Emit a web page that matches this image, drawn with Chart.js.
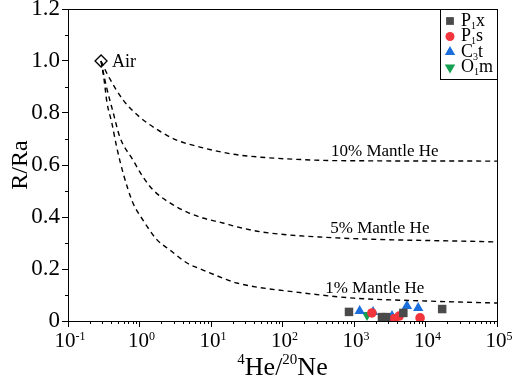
<!DOCTYPE html>
<html>
<head>
<meta charset="utf-8">
<script src="https://cdn.jsdelivr.net/npm/chart.js@4.4.1/dist/chart.umd.min.js"></script>
<style>
  html, body { margin: 0; padding: 0; background: #fff; }
</style>
</head>
<body>
<canvas id="chartHeNe" width="512" height="377"></canvas>
<script>
// R/Ra vs 4He/20Ne, with air - mantle He mixing curves
const serif = "'Liberation Serif', 'Times New Roman', serif";

const xTickValues = [0.1, 1, 10, 100, 1000, 10000, 100000];
const xTickExp = ['-1', '0', '1', '2', '3', '4', '5'];
const yTickValues = [0, 0.2, 0.4, 0.6, 0.8, 1.0, 1.2];

// air end member
const airX = [0.29];
const airY = [1.0];

// mixing curves
const curve10X = [0.29, 0.36, 0.59, 1.0, 1.8, 3.3, 7, 20, 50, 150, 500, 100000];
const curve10Y = [1.0, 0.946, 0.85, 0.785, 0.735, 0.696, 0.669, 0.642, 0.630, 0.622, 0.617, 0.615];

const curve5X = [0.29, 0.34, 0.43, 0.53, 0.81, 1.12, 1.55, 2.67, 4.62, 7.73, 14.7, 23.1, 53, 331, 100000];
const curve5Y = [1.0, 0.908, 0.8, 0.708, 0.619, 0.554, 0.504, 0.454, 0.419, 0.396, 0.377, 0.362, 0.342, 0.323, 0.304];

const curve1X = [0.29, 0.32, 0.35, 0.41, 0.48, 0.59, 0.81, 1.12, 1.76, 2.67, 4.62, 7.73, 14.7, 23.1, 194, 1000, 10000, 100000];
const curve1Y = [1.0, 0.927, 0.842, 0.762, 0.669, 0.569, 0.454, 0.388, 0.312, 0.273, 0.223, 0.196, 0.165, 0.146, 0.108, 0.088, 0.077, 0.069];

// samples
const p1xX = [851, 2460, 2800, 4900, 17100];
const p1xY = [0.035, 0.015, 0.015, 0.031, 0.046];

const p1sX = [1780, 3630, 4280, 8400];
const p1sY = [0.031, 0.008, 0.019, 0.012];

const c3tX = [1200, 1850, 3400, 5500, 7900];
const c3tY = [0.038, 0.035, 0.019, 0.058, 0.05];

const o1mX = [1520];
const o1mY = [0.023];

// curve labels: [text, x, y]
const curveLabels = [
    ['10% Mantle He', 2700, 0.65],
    ['5% Mantle He', 2300, 0.354],
    ['1% Mantle He', 1950, 0.123]
];

const toPoints = (xs, ys) => xs.map((x, i) => ({ x: x, y: ys[i] }));

function curve(xs, ys) {
    return {
        label: '',
        data: toPoints(xs, ys),
        showLine: true,
        borderColor: '#000',
        borderWidth: 1.4,
        borderDash: [5, 4],
        pointRadius: 0,
        cubicInterpolationMode: 'monotone',
        fill: false,
        inLegend: false
    };
}

function samples(label, xs, ys, style, color, radius, rotation) {
    return {
        label: label,
        data: toPoints(xs, ys),
        showLine: false,
        pointStyle: style,
        pointRotation: rotation || 0,
        pointRadius: radius,
        pointBackgroundColor: color,
        pointBorderColor: color,
        pointBorderWidth: 0,
        inLegend: true
    };
}

const subDigits = '₀₁₂₃₄₅₆₇₈₉';

function drawSubText(ctx, text, x, y, size) {
    let cx = x;
    for (const ch of text) {
        const k = subDigits.indexOf(ch);
        if (k >= 0) {
            ctx.font = Math.round(size * 0.55) + 'px ' + serif;
            ctx.fillText(String(k), cx, y + size * 0.28);
            cx += ctx.measureText(String(k)).width;
        } else {
            ctx.font = size + 'px ' + serif;
            ctx.fillText(ch, cx, y);
            cx += ctx.measureText(ch).width;
        }
    }
}

// parts: [text, isSuperscript]; centred at cx, baseline y
function drawSupText(ctx, parts, cx, y, size, supSize, rise) {
    const widths = parts.map(([t, sup]) => {
        ctx.font = (sup ? supSize : size) + 'px ' + serif;
        return ctx.measureText(t).width;
    });
    let x = cx - widths.reduce((a, b) => a + b, 0) / 2;
    parts.forEach(([t, sup], i) => {
        ctx.font = (sup ? supSize : size) + 'px ' + serif;
        ctx.fillText(t, x, sup ? y - rise : y);
        x += widths[i];
    });
}

const extras = {
    id: 'extras',
    afterDraw(chart) {
        const ctx = chart.ctx;
        const area = chart.chartArea;
        const xs = chart.scales.x;
        const ys = chart.scales.y;
        ctx.save();

        // frame top / right
        ctx.strokeStyle = '#000';
        ctx.lineWidth = 1;
        ctx.beginPath();
        ctx.moveTo(area.left, area.top + 0.5);
        ctx.lineTo(area.right + 0.5, area.top + 0.5);
        ctx.lineTo(area.right + 0.5, area.bottom);
        ctx.stroke();

        // minor ticks
        ctx.beginPath();
        for (let k = -1; k < 5; k++) {
            for (let m = 2; m <= 9; m++) {
                const px = Math.round(xs.getPixelForValue(m * Math.pow(10, k))) + 0.5;
                ctx.moveTo(px, area.bottom);
                ctx.lineTo(px, area.bottom + 3);
            }
        }
        for (let v = 0.1; v < 1.2; v += 0.2) {
            const py = Math.round(ys.getPixelForValue(v)) + 0.5;
            ctx.moveTo(area.left, py);
            ctx.lineTo(area.left - 3, py);
        }
        ctx.stroke();

        // x tick labels and axis title
        ctx.fillStyle = '#000';
        ctx.textAlign = 'left';
        ctx.textBaseline = 'alphabetic';
        xTickValues.forEach((v, i) => {
            drawSupText(ctx, [['10', false], [xTickExp[i], true]],
                xs.getPixelForValue(v) + 2, area.bottom + 26, 21, 12, 7);
        });
        drawSupText(ctx, [['4', true], ['He/', false], ['20', true], ['Ne', false]],
            (area.left + area.right) / 2, area.bottom + 54, 26, 15, 11);

        // text labels
        ctx.textBaseline = 'middle';
        ctx.textAlign = 'center';
        ctx.font = '17px ' + serif;
        curveLabels.forEach(([t, x, y]) => {
            ctx.fillText(t, xs.getPixelForValue(x), ys.getPixelForValue(y));
        });
        ctx.textAlign = 'left';
        ctx.font = '18px ' + serif;
        ctx.fillText('Air', xs.getPixelForValue(airX[0]) + 11, ys.getPixelForValue(airY[0]) + 1);

        // legend box
        const items = chart.data.datasets.filter(d => d.inLegend);
        const lx = 440, ly = area.top, lw = area.right - 440, rowH = 15.5;
        const lh = items.length * rowH + 8;
        ctx.fillStyle = '#fff';
        ctx.fillRect(lx, ly, lw, lh);
        ctx.strokeStyle = '#000';
        ctx.strokeRect(lx + 0.5, ly + 0.5, lw, lh);
        items.forEach((d, i) => {
            const cy = ly + 12 + i * rowH;
            ctx.fillStyle = d.pointBackgroundColor;
            ctx.strokeStyle = d.pointBorderColor;
            Chart.helpers.drawPoint(ctx, {
                pointStyle: d.pointStyle,
                rotation: d.pointRotation,
                radius: d.pointStyle === 'circle' ? 4.5 : (d.pointStyle === 'rect' ? 5.5 : 6),
                borderWidth: 0
            }, lx + 10, cy);
            ctx.fillStyle = '#000';
            ctx.textBaseline = 'middle';
            drawSubText(ctx, d.label, lx + 21, cy, 18);
        });
        ctx.restore();
    }
};

const chartHeNe = new Chart(document.getElementById('chartHeNe').getContext('2d'), {
    type: 'scatter',
    data: {
        datasets: [
            curve(curve10X, curve10Y),
            curve(curve5X, curve5Y),
            curve(curve1X, curve1Y),
            {
                label: 'Air',
                data: toPoints(airX, airY),
                pointStyle: 'rectRot',
                pointRadius: 6,
                pointBackgroundColor: '#fff',
                pointBorderColor: '#000',
                pointBorderWidth: 1.3,
                inLegend: false
            },
            samples('P₁x', p1xX, p1xY, 'rect', '#4a4a4a', 6),
            samples('P₁s', p1sX, p1sY, 'circle', '#f2343c', 4.8),
            samples('C₃t', c3tX, c3tY, 'triangle', '#1b6fdc', 6),
            samples('O₁m', o1mX, o1mY, 'triangle', '#13a050', 6, 180)
        ]
    },
    options: {
        responsive: false,
        animation: false,
        devicePixelRatio: 1,
        layout: { padding: { top: 9, right: 15, left: 0, bottom: 0 } },
        plugins: {
            legend: { display: false },
            tooltip: { enabled: false }
        },
        scales: {
            x: {
                type: 'logarithmic',
                min: 0.1,
                max: 100000,
                border: { color: '#000', width: 1 },
                grid: { drawOnChartArea: false, color: '#000', tickLength: 6 },
                ticks: { display: false },
                afterBuildTicks: function(scale) {
                    scale.ticks = xTickValues.map(v => ({ value: v }));
                },
                afterFit: function(scale) {
                    scale.height = 56;
                    scale.paddingLeft = 0;
                    scale.paddingRight = 0;
                }
            },
            y: {
                min: 0,
                max: 1.2,
                border: { color: '#000', width: 1 },
                grid: { drawOnChartArea: false, color: '#000', tickLength: 6 },
                ticks: {
                    color: '#000',
                    font: { family: serif, size: 23 },
                    padding: 2,
                    callback: function(value) {
                        return value === 0 ? '0' : value.toFixed(1);
                    }
                },
                afterBuildTicks: function(scale) {
                    scale.ticks = yTickValues.map(v => ({ value: v }));
                },
                afterFit: function(scale) {
                    scale.width = 68;
                    scale.paddingTop = 0;
                    scale.paddingBottom = 0;
                },
                title: {
                    display: true,
                    text: 'R/Ra',
                    color: '#000',
                    font: { family: serif, size: 24 },
                    padding: { top: 6, bottom: 0 }
                }
            }
        }
    },
    plugins: [extras]
});
</script>
</body>
</html>
